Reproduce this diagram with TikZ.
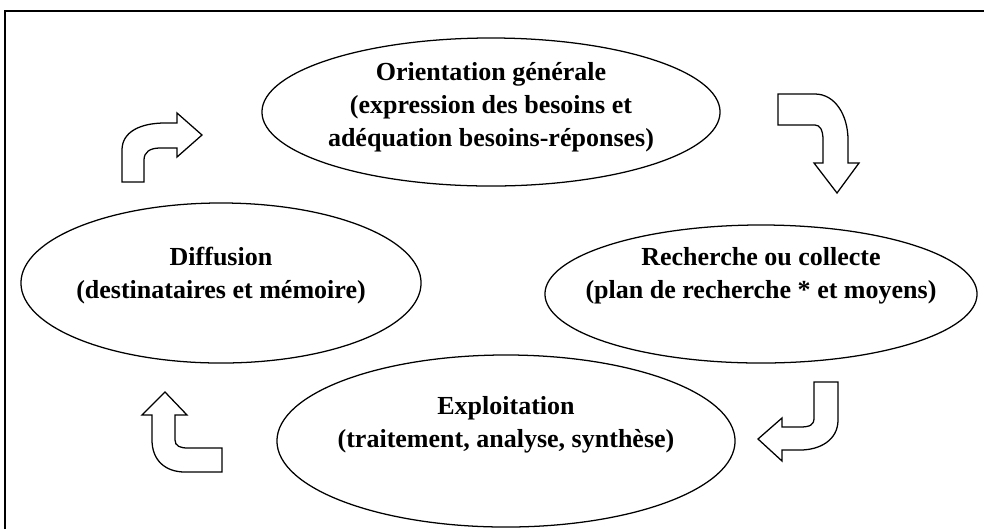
\documentclass[tikz,border=0pt]{standalone}
\usepackage{fontspec}
\setmainfont{Liberation Serif}
\usetikzlibrary{shapes.geometric}

\begin{document}
\begin{tikzpicture}[x=0.025cm, y=-0.025cm,
		stage/.style={ellipse, draw=black, line width=0.9pt, inner sep=0pt},
		stagetext/.style={align=center, font=\fontsize{18.5}{23.5}\selectfont\bfseries},
		bent/.style={draw=black, line width=0.9pt, line join=miter, fill=white}]
		
		% Fix the page size
		\useasboundingbox (0,0) rectangle (984,529);
		
		% Draw the frame (top and left edges only)
		\draw[line width=2.1pt] (5,529) -- (5,11) -- (984,11);
		
		% Draw the four stages
		\node[stage, minimum width=11.45cm, minimum height=3.7cm] (orient) at (491,112) {};
		\node[stage, minimum width=10.8cm, minimum height=3.45cm] (collecte) at (761,294) {};
		\node[stage, minimum width=11.45cm, minimum height=4.3cm] (exploit) at (506,441) {};
		\node[stage, minimum width=10cm, minimum height=4cm] (diffus) at (221,283) {};
		
		% Add the texts
		\node[stagetext] (orientText) at ([yshift=0.12cm]orient.center)
			{Orientation générale\\(expression des besoins et\\adéquation besoins-réponses)};
		\node[stagetext] (collecteText) at ([yshift=0.45cm]collecte.center)
			{Recherche ou collecte\\(plan de recherche * et moyens)};
		\node[stagetext] (exploitText) at ([yshift=0.4cm]exploit.center)
			{Exploitation\\(traitement, analyse, synthèse)};
		\node[stagetext] (diffusText) at ([yshift=0.18cm]diffus.center)
			{Diffusion\\(destinataires et mémoire)};
		
		% Draw the bent block arrows
		\draw[bent] (122,182) -- (122,150) .. controls (122,132) and (140,123) .. (165,123)
			-- (177,123) -- (177,113) -- (202,135) -- (177,157) -- (177,148) -- (160,148)
			.. controls (150,148) and (144,152) .. (144,160) -- (144,182) -- cycle;
		\draw[bent] (778,94) -- (815,94) .. controls (835,94) and (848,115) .. (848,140)
			-- (848,163) -- (859,163) -- (837,193) -- (814,163) -- (823,163) -- (823,140)
			.. controls (823,130) and (820,125) .. (815,125) -- (778,125) -- cycle;
		\draw[bent] (814,382) -- (838,382) -- (838,420) .. controls (838,440) and (820,450) .. (800,450)
			-- (782,450) -- (782,461) -- (758,439) -- (782,418) -- (782,427) -- (800,427)
			.. controls (810,427) and (814,425) .. (814,418) -- cycle;
		\draw[bent] (165,392) -- (187,415) -- (175,415) -- (175,440)
			.. controls (175,446) and (180,448) .. (188,448) -- (222,448) -- (222,472) -- (185,472)
			.. controls (165,472) and (152,460) .. (152,440) -- (152,415) -- (142,415) -- cycle;
		
	\end{tikzpicture}
\end{document}
